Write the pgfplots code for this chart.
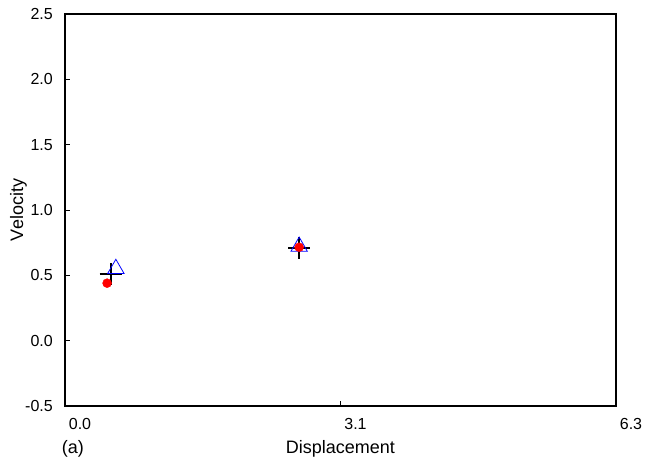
\documentclass[border=0pt]{standalone}
\usepackage{pgfplots}
\pgfplotsset{compat=1.18}
\usepackage{fontspec}
\setmainfont{Liberation Sans}
\begin{document}
\begin{tikzpicture}[x=1pt,y=1pt]
\useasboundingbox (0,0) rectangle (646,457);
\begin{axis}[
  at={(65pt,51pt)}, anchor=south west,
  scale only axis, width=551pt, height=392pt,
  xmin=0, xmax=6.283185, ymin=-0.5, ymax=2.5,
  xtick={0,3.14159,6.283185},
  xticklabels={0.0,3.1,6.3},
  ytick={-0.5,0,0.5,1,1.5,2,2.5},
  yticklabels={-0.5,0.0,0.5,1.0,1.5,2.0,2.5},
  tick align=inside,
  major tick length=5pt,
  xtick pos=bottom, ytick pos=left,
  axis line style={line width=1.2pt},
  tick style={black, line width=0.6pt},
  /pgf/number format/assume math mode=true,
  tick label style={font=\fontsize{16}{18}\selectfont},
  xticklabel style={anchor=center, xshift=15pt, yshift=-18pt},
  yticklabel style={anchor=east, inner sep=0pt, xshift=-12pt},
  label style={font=\fontsize{18}{20}\selectfont},
  xlabel={Displacement},
  ylabel={Velocity},
  xlabel style={at={(axis description cs:0.5,-0.11)}, anchor=center},
  ylabel style={at={(axis description cs:-0.0844,0.5)}, anchor=center},
  clip=false,
]
\addplot[only marks, mark=+, mark size=11pt, mark options={line width=1.8pt, black}] coordinates {(0.52,0.51) (2.67,0.71)};
\addplot[only marks, mark=triangle, mark size=9.5pt, mark options={line width=0.8pt, blue}] coordinates {(0.58,0.55) (2.67,0.72)};
\addplot[only marks, mark=*, mark size=4.5pt, mark options={draw=red, fill=red}] coordinates {(0.48,0.44) (2.67,0.715)};
\node[font=\fontsize{18}{20}\selectfont, anchor=center] at (axis description cs:0.0145,-0.11) {(a)};
\end{axis}
\end{tikzpicture}
\end{document}
